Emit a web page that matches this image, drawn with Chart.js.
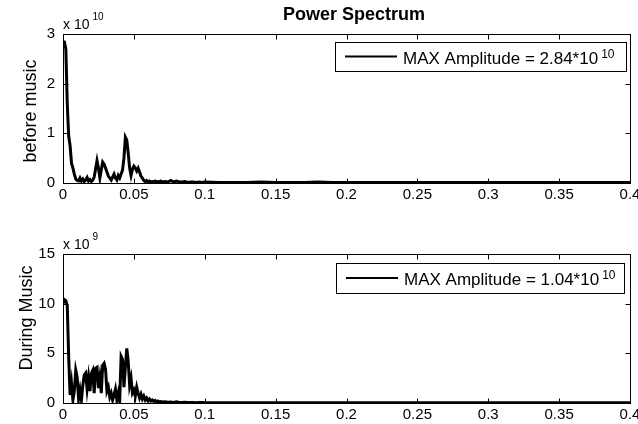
<!DOCTYPE html>
<html>
<head>
<meta charset="utf-8">
<script src="https://cdn.jsdelivr.net/npm/chart.js@4.4.0/dist/chart.umd.min.js"></script>
<style>
body { margin: 0; background: #fff; }
canvas { display: block; }
</style>
</head>
<body>
<canvas id="top" width="638" height="212"></canvas>
<canvas id="bottom" width="638" height="212"></canvas>
<script>
// frequency (Hz)
var freq = [
  0, 0.001, 0.002, 0.003, 0.004, 0.005, 0.006, 0.007, 0.008, 0.009,
  0.010, 0.011, 0.012, 0.013, 0.014, 0.015, 0.016, 0.017, 0.018, 0.019,
  0.020, 0.021, 0.022, 0.023, 0.024, 0.025, 0.026, 0.027, 0.028, 0.029,
  0.030, 0.031, 0.032, 0.033, 0.034, 0.035, 0.036, 0.037, 0.038, 0.039,
  0.040, 0.041, 0.042, 0.043, 0.044, 0.045, 0.046, 0.047, 0.048, 0.049,
  0.050, 0.051, 0.052, 0.053, 0.054, 0.055, 0.056, 0.057, 0.058, 0.059,
  0.060, 0.061, 0.062, 0.063, 0.064, 0.065, 0.066, 0.067, 0.068, 0.069,
  0.070, 0.072, 0.074, 0.076, 0.078, 0.080, 0.082, 0.084, 0.086, 0.088,
  0.090, 0.092, 0.094, 0.096, 0.098, 0.100,
  0.11, 0.12, 0.13, 0.14, 0.15, 0.16, 0.17, 0.18, 0.19, 0.20,
  0.21, 0.22, 0.23, 0.24, 0.25, 0.26, 0.27, 0.28, 0.29, 0.30,
  0.31, 0.32, 0.33, 0.34, 0.35, 0.36, 0.37, 0.38, 0.39, 0.40
];

// before music, x 10^10
var beforeMusic = [
  2.84, 2.84, 2.70, 1.60, 0.95, 0.75, 0.40, 0.30, 0.18, 0.08,
  0.05, 0.04, 0.10, 0.04, 0.08, 0.03, 0.06, 0.11, 0.04, 0.07,
  0.03, 0.06, 0.12, 0.28, 0.45, 0.30, 0.10, 0.26, 0.42, 0.38,
  0.30, 0.22, 0.14, 0.10, 0.06, 0.12, 0.18, 0.10, 0.06, 0.15,
  0.10, 0.18, 0.26, 0.50, 0.92, 0.86, 0.60, 0.30, 0.15, 0.28,
  0.34, 0.30, 0.24, 0.30, 0.22, 0.14, 0.10, 0.05, 0.03, 0.05,
  0.02, 0.04, 0.02, 0.03, 0.02, 0.04, 0.02, 0.03, 0.02, 0.04,
  0.02, 0.03, 0.02, 0.05, 0.02, 0.04, 0.02, 0.02, 0.03, 0.01,
  0.02, 0.02, 0.01, 0.02, 0.01, 0.02,
  0.01, 0.01, 0.01, 0.02, 0.01, 0.01, 0.01, 0.02, 0.01, 0.01,
  0.01, 0.01, 0.01, 0.01, 0.01, 0.01, 0.01, 0.01, 0.01, 0.01,
  0.01, 0.01, 0.01, 0.01, 0.01, 0.01, 0.01, 0.01, 0.01, 0.01
];

// during music, x 10^9
var duringMusic = [
  10.0, 10.4, 10.3, 9.8, 4.7, 0.8, 2.0, 0.3, 1.2, 3.3,
  2.6, 0.4, 1.3, 0.3, 1.8, 2.8, 3.0, 1.4, 2.6, 1.2,
  3.0, 3.3, 1.0, 3.5, 3.6, 1.5, 2.6, 1.0, 3.8, 4.0,
  3.4, 1.2, 1.6, 0.6, 1.0, 0.3, 0.8, 1.4, 0.3, 1.0,
  0.2, 4.7, 4.4, 1.6, 3.6, 5.5, 4.2, 1.8, 2.5, 1.0,
  1.3, 0.7, 1.6, 1.0, 0.5, 0.9, 0.4, 0.7, 0.3, 0.5,
  0.2, 0.4, 0.2, 0.3, 0.15, 0.25, 0.1, 0.2, 0.1, 0.15,
  0.1, 0.12, 0.08, 0.1, 0.06, 0.12, 0.05, 0.06, 0.08, 0.04,
  0.05, 0.06, 0.03, 0.05, 0.04, 0.03,
  0.03, 0.02, 0.03, 0.02, 0.03, 0.02, 0.02, 0.03, 0.02, 0.02,
  0.02, 0.02, 0.02, 0.02, 0.02, 0.02, 0.02, 0.02, 0.02, 0.02,
  0.02, 0.02, 0.02, 0.02, 0.02, 0.02, 0.02, 0.02, 0.02, 0.02
];

var xTicks = [0, 0.05, 0.1, 0.15, 0.2, 0.25, 0.3, 0.35, 0.4];
var xTickLabels = ['0', '0.05', '0.1', '0.15', '0.2', '0.25', '0.3', '0.35', '0.4'];
var yTicksTop = [0, 1, 2, 3];
var yTicksBottom = [0, 5, 10, 15];

var titleText = 'Power Spectrum';
var xLabel = 'frequency (Hz)';
var yLabelTop = 'before music';
var yLabelBottom = 'During Music';
var expTop = '10';
var expBottom = '9';
var legendText = 'MAX Amplitude = ';
var legendTop = '2.84*10';
var legendBottom = '1.04*10';
var legendExp = '10';

Chart.defaults.font.family = '"Liberation Sans", Arial, sans-serif';
Chart.defaults.color = '#000';

function points(ys) {
  return freq.map(function(f, i) { return { x: f, y: ys[i] }; });
}

// box, inside ticks and all the extra text, MATLAB style
function frame(cfg) {
  return {
    id: 'frame',
    afterDraw: function(chart) {
      var ctx = chart.ctx, a = chart.chartArea;
      var xs = chart.scales.x, ys = chart.scales.y;
      var L = Math.round(a.left) + 0.5, R = Math.round(a.right) + 0.5;
      var T = Math.round(a.top) + 0.5, B = Math.round(a.bottom) + 0.5;
      ctx.save();
      ctx.strokeStyle = '#000';
      ctx.lineWidth = 1;
      ctx.strokeRect(L, T, R - L, B - T);
      ctx.beginPath();
      xTicks.forEach(function(v) {
        var px = Math.round(xs.getPixelForValue(v)) + 0.5;
        ctx.moveTo(px, B); ctx.lineTo(px, B - 5);
        ctx.moveTo(px, T); ctx.lineTo(px, T + 5);
      });
      cfg.yTicks.forEach(function(v) {
        var py = Math.round(ys.getPixelForValue(v)) + 0.5;
        ctx.moveTo(L, py); ctx.lineTo(L + 5, py);
        ctx.moveTo(R, py); ctx.lineTo(R - 5, py);
      });
      ctx.stroke();

      ctx.fillStyle = '#000';
      // exponent above the y axis
      ctx.font = '14px "Liberation Sans", Arial, sans-serif';
      ctx.textAlign = 'left';
      ctx.textBaseline = 'alphabetic';
      ctx.fillText('x 10', a.left, a.top - 5);
      var w = ctx.measureText('x 10').width;
      ctx.font = '10px "Liberation Sans", Arial, sans-serif';
      ctx.fillText(cfg.exp, a.left + w + 3, a.top - 14);

      // y label
      ctx.save();
      ctx.translate(cfg.yLabelX, cfg.yLabelY);
      ctx.rotate(-Math.PI / 2);
      ctx.font = '18px "Liberation Sans", Arial, sans-serif';
      ctx.textAlign = 'center';
      ctx.fillText(cfg.yLabel, 0, 0);
      ctx.restore();

      // legend
      var lb = cfg.legendBox;
      ctx.fillStyle = '#fff';
      ctx.fillRect(lb[0], lb[1], lb[2], lb[3]);
      ctx.strokeRect(lb[0] + 0.5, lb[1] + 0.5, lb[2], lb[3]);
      var cy = lb[1] + lb[3] / 2;
      ctx.beginPath();
      ctx.lineWidth = 2;
      ctx.moveTo(lb[0] + 10, cy);
      ctx.lineTo(lb[0] + 62, cy);
      ctx.stroke();
      ctx.fillStyle = '#000';
      ctx.font = '17px "Liberation Sans", Arial, sans-serif';
      var tx = lb[0] + 68;
      ctx.fillText(legendText + cfg.legendValue, tx, cy + 7);
      var tw = ctx.measureText(legendText + cfg.legendValue).width;
      ctx.font = '12px "Liberation Sans", Arial, sans-serif';
      ctx.fillText(legendExp, tx + tw + 3, cy + 1);

      if (cfg.title) {
        ctx.font = 'bold 18px "Liberation Sans", Arial, sans-serif';
        ctx.textAlign = 'center';
        ctx.fillText(titleText, 354, 20);
        ctx.font = '18px "Liberation Sans", Arial, sans-serif';
        ctx.fillText(xLabel, (a.left + a.right) / 2 - 3, 228);
      }
      ctx.restore();
    }
  };
}

function makeChart(id, data, cfg) {
  var ctx = document.getElementById(id).getContext('2d');
  return new Chart(ctx, {
    type: 'line',
    data: {
      datasets: [{
        data: points(data),
        borderColor: '#000',
        borderWidth: 3,
        borderJoinStyle: 'miter',
        pointRadius: 0,
        tension: 0,
        fill: false
      }]
    },
    options: {
      responsive: false,
      animation: false,
      devicePixelRatio: 1,
      layout: { padding: { top: cfg.padTop, right: 8, bottom: 0, left: 0 } },
      plugins: { legend: { display: false }, tooltip: { enabled: false } },
      scales: {
        x: {
          type: 'linear',
          min: 0,
          max: 0.4,
          grid: { display: false, drawTicks: false },
          border: { display: false },
          ticks: {
            font: { size: 15 }, padding: 3, autoSkip: false, maxRotation: 0,
            callback: function(v, i) { return xTickLabels[i]; }
          },
          afterBuildTicks: function(s) { s.ticks = xTicks.map(function(v) { return { value: v }; }); },
          afterFit: function(s) { s.height = cfg.xHeight; s.paddingLeft = 0; s.paddingRight = 0; }
        },
        y: {
          min: 0,
          max: cfg.yTicks[cfg.yTicks.length - 1],
          grid: { display: false, drawTicks: false },
          border: { display: false },
          ticks: { font: { size: 15 }, padding: 8 },
          afterBuildTicks: function(s) { s.ticks = cfg.yTicks.map(function(v) { return { value: v }; }); },
          afterFit: function(s) { s.width = 63; s.paddingTop = 0; s.paddingBottom = 0; }
        }
      }
    },
    plugins: [frame(cfg)]
  });
}

makeChart('top', beforeMusic, {
  padTop: 34, xHeight: 29, yTicks: yTicksTop, exp: expTop,
  yLabel: yLabelTop, yLabelX: 36, yLabelY: 111,
  legendBox: [335, 42, 291, 29], legendValue: legendTop, title: true
});

makeChart('bottom', duringMusic, {
  padTop: 42, xHeight: 21, yTicks: yTicksBottom, exp: expBottom,
  yLabel: yLabelBottom, yLabelX: 32, yLabelY: 106,
  legendBox: [336, 51, 288, 30], legendValue: legendBottom, title: false
});
</script>
</body>
</html>
